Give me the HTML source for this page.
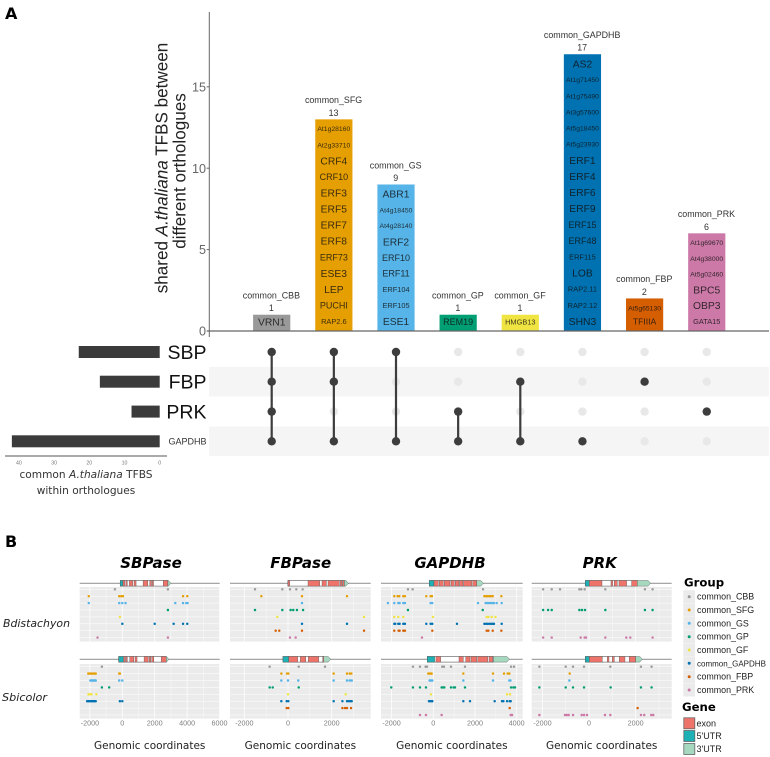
<!DOCTYPE html>
<html lang="en">
<head>
<meta charset="utf-8">
<title>Shared A.thaliana TFBS between orthologues</title>
<style>
html,body{margin:0;padding:0;background:#fff;width:770px;height:757px;overflow:hidden}
svg{display:block;filter:blur(.3px)}
text{font-family:"Liberation Sans",Arial,sans-serif}
.dj{font-family:"DejaVu Sans",Verdana,sans-serif}
</style>
</head>
<body>
<svg id="figure" xmlns="http://www.w3.org/2000/svg" width="770" height="757" viewBox="0 0 770 757">
  <text x="5" y="19" font-size="16" font-weight="bold" class="dj">A</text>
  <text x="5" y="547" font-size="16" font-weight="bold" class="dj">B</text>
  <text transform="translate(167.7,168) rotate(-90)" text-anchor="middle" font-size="17.1" fill="#222">shared <tspan font-style="italic">A.thaliana</tspan> TFBS between</text>
  <text transform="translate(185.7,171) rotate(-90)" text-anchor="middle" font-size="17.1" fill="#222">different orthologues</text>
  <text x="86" y="478" text-anchor="middle" font-size="10.6" class="dj" fill="#333">common <tspan font-style="italic">A.thaliana</tspan> TFBS</text>
  <text x="86" y="494" text-anchor="middle" font-size="10.6" class="dj" fill="#333">within orthologues</text>
  <text x="3" y="627" font-size="11" font-style="italic" class="dj" fill="#222" textLength="67" lengthAdjust="spacingAndGlyphs">Bdistachyon</text>
  <text x="2" y="701" font-size="11" font-style="italic" class="dj" fill="#222" textLength="45" lengthAdjust="spacingAndGlyphs">Sbicolor</text>
  <text x="684" y="586.5" font-size="11.7" font-weight="bold" class="dj">Group</text>
  <text x="682" y="711" font-size="11.7" font-weight="bold" class="dj">Gene</text>
</svg>
<script>
/* ---------- UpSet bars ---------- */
var categories = ['common_CBB','common_SFG','common_GS','common_GP','common_GF','common_GAPDHB','common_FBP','common_PRK'];
var barValues = [1,13,9,1,1,17,2,6];
var groupColors = ['#999999','#E69F00','#56B4E9','#009E73','#F0E442','#0072B2','#D55E00','#CC79A7'];
var yTicks = [0,5,10,15];
var cbbLabels = ['VRN1'];
var sfgLabels = ['At1g28160','At2g33710','CRF4','CRF10','ERF3','ERF5','ERF7','ERF8','ERF73','ESE3','LEP','PUCHI','RAP2.6'];
var gsLabels = ['ABR1','At4g18450','At4g28140','ERF2','ERF10','ERF11','ERF104','ERF105','ESE1'];
var gpLabels = ['REM19'];
var gfLabels = ['HMGB13'];
var gapdhbLabels = ['AS2','At1g71450','At1g75490','At3g57600','At5g18450','At5g23930','ERF1','ERF4','ERF6','ERF9','ERF15','ERF48','ERF115','LOB','RAP2.11','RAP2.12','SHN3'];
var fbpLabels = ['At5g65130','TFIIIA'];
var prkLabels = ['At1g69670','At4g38000','At5g02460','BPC5','OBP3','GATA15'];
var barLabels = [cbbLabels,sfgLabels,gsLabels,gpLabels,gfLabels,gapdhbLabels,fbpLabels,prkLabels];

/* ---------- UpSet matrix and set sizes ---------- */
var setNames = ['SBP','FBP','PRK','GAPDHB'];
var setSizes = [23,17,8,42];
var setSizeTicks = [40,30,20,10,0];
var memberships = [[0,1,2,3],[0,1,3],[0,3],[2,3],[1,3],[3],[1],[2]];

/* ---------- Genomic panels: one array per group, in base pairs ---------- */
var sbpTopPoints = [
 [-455,2815],[-2070,-190,-60,40,3750,4010],[-2070,-190,0,200,3270,3750,3950,4030],[2815],[-145],[0,2000,3170,3750,4010],[],[-1530,2815]];
var sbpBottomPoints = [
 [-1260],[-2100,-2030,-1960,-1900,-1830,-1770,-1700,-1640,-190,-150],[-1970,-1900,-1840,-1780,-1700,-1640,-190,0],[-1260,-810],[-2090,-2000,-1900,-1600],[-2170,-2100,-2030,-1960,-1900,-1830,-1770,-1700,-1640,-150,0],[],[]];
var fbpTopPoints = [
 [-1510,-260,90,380,670],[-1220,640,2700],[640],[-1510,-260,120,240,410,690],[-490,3480],[640,2700],[-565,-400,640,3480],[90,350]];
var fbpBottomPoints = [
 [-840,490,1695],[-305,-45,15,2090,2700,2825,2900],[-305,0,470,2090,2700,2825,2915],[-840,-700,490],[0,2640],[-305,-60,15,2090,2490,2700,2780,2855,2915],[-60,15,2490,2610,2700,2885],[]];
var gapTopPoints = [
 [-1216,-992,2384],[-1872,-1712,-1632,-1440,-1360,-336,-128,-64,2450,2530,2610,2690,2770,2850,3264],[-2176,-1872,-1680,-1616,-1440,-1360,-128,-48,2144,2510,2590,2670,2750,2830,2910,3040,3280],[-1216,2370],[-1872,-1680,-1440,-16,2560,2640,2800,2980],[-1872,-1824,-1680,-1616,-1440,-1360,-336,-128,-48,1136,2450,2530,2610,2690,2770,2850,2910,3280],[-1872,-1664,-1616,-1440,-1360,-48,2560,2640,2850,3264],[-544]];
var gapBottomPoints = [
 [-976,-640,-368,-304,430,510,848,1520,3728,3872],[-240,-176,-112,-80,1440,2864,3392,3568,3648],[-176,-112,-48,1440,2864,3648,3696],[-2016,-976,-640,-352,400,464,528,848,976,1040,1520,3728,3840,3920],[-112,3536,3680],[-208,-144,-80,-48,1440,1760,2944,3296,3360,3536,3664,3712],[3664],[-640,-352,400,3712,3776]];
var prkTopPoints = [
 [-1970,-1600,-1243,-414,-329,-186,700,2400,2729],[],[],[-1970,-1757,-1600,-414,-300,-171,700,2400,2729],[],[],[],[-1970,-1600,-357,-186,-129,700,1600,1771,2729]];
var prkBottomPoints = [
 [-2130,-1000,-686,-214,914,2229,2686],[-829],[-843],[-2130,-1000,-686,-214,930,2229,2686],[],[],[2086],[-2130,-1030,-957,-871,-686,-314,-214,-86,686,914,2229,2371,2671,2757]];

/* ---------- Gene models, in base pairs ---------- */
var sbpTopExons = [[40,165],[228,310],[435,640],[725,850],[1285,1575],[1700,1800],[1840,1925],[2525,2815]];
var sbpTopUtr5 = [-125,40];
var sbpTopUtr3 = [2815,3000];
var sbpBottomExons = [[100,185],[228,310],[455,705],[785,910],[1345,1595],[1655,1760],[1820,1945],[2400,2710]];
var sbpBottomUtr5 = [-225,60];
var sbpBottomUtr3 = [2710,2880];
var fbpTopExons = [[0,76],[916,1450],[1558,1756],[1832,2351],[2397,2474],[2504,2580]];
var fbpTopUtr5 = [0,15];
var fbpTopUtr3 = [2580,2764];
var fbpBottomExons = [[30,443],[565,810],[931,1405],[1588,1634]];
var fbpBottomUtr5 = [-229,30];
var fbpBottomUtr3 = [1634,1955];
var gapTopExons = [[32,240],[288,480],[528,800],[848,1008],[1056,1232],[1264,1424],[1456,1840],[1888,2080]];
var gapTopUtr5 = [-192,32];
var gapTopUtr3 = [2080,2400];
var gapBottomExons = [[128,352],[1232,1440],[1552,1760],[1808,2080],[2128,2608],[2672,2848]];
var gapBottomUtr5 = [-288,64];
var gapBottomUtr3 = [2880,3648];
var prkTopExons = [[14,557],[943,1014],[1086,1214],[1286,1614],[1829,2071]];
var prkTopUtr5 = [-157,14];
var prkTopUtr3 = [2071,2643];
var prkBottomExons = [[14,571],[786,857],[1000,1086],[1300,1543],[1729,2000]];
var prkBottomUtr5 = [-157,14];
var prkBottomUtr3 = [2000,2286];

var svg = document.getElementById('figure');
var NS = 'http://www.w3.org/2000/svg';
function el(tag, attrs, text, parent) {
  var n = document.createElementNS(NS, tag);
  for (var k in attrs) n.setAttribute(k, attrs[k]);
  if (text !== undefined) n.textContent = text;
  (parent || svg).appendChild(n);
  return n;
}
function mark(n, name, inter) {
  
  
  return n;
}

/* ===== main bar chart ===== */
var y0 = 331, unit = 16.28, barX0 = 271.7, barStep = 62.15, barW = 37.2;
function yScale(v) { return y0 - v * unit; }
function barX(i) { return barX0 + i * barStep; }

var mainAxes = el('g', {});
mark(mainAxes, 'upset-axes', false);
var yLine = el('line', {x1:209.3,x2:209.3,y1:12,y2:337,stroke:'#666','stroke-width':1}, undefined, mainAxes);
mark(yLine, 'y-axis-line', false);
yTicks.forEach(function (t) {
  if (t > 0) {
    var tk = el('line', {x1:206.7,x2:209.3,y1:yScale(t),y2:yScale(t),stroke:'#666','stroke-width':1}, undefined, mainAxes);
    mark(tk, 'y-tick', false);
  }
  var lb = el('text', {x:206,y:yScale(t)+4.6,'text-anchor':'end','font-size':12.6,fill:'#666'}, String(t), mainAxes);
  mark(lb, 'y-tick-label', false);
});

barValues.forEach(function (v, i) {
  var g = el('g', {});
  mark(g, 'bar-' + categories[i], false);
  var c = barX(i);
  var r = el('rect', {x:c-barW/2,y:yScale(v),width:barW,height:v*unit,fill:groupColors[i]}, undefined, g);
  mark(r, 'bar-rect', false);
  var n = el('text', {x:c-0.3,y:yScale(v)-16.2,'text-anchor':'middle','font-size':8.9,fill:'#333'}, categories[i], g);
  mark(n, 'bar-name', false);
  var ct = el('text', {x:c-0.3,y:yScale(v)-3.5,'text-anchor':'middle','font-size':8.9,fill:'#333'}, String(v), g);
  mark(ct, 'bar-count', false);
  var labels = barLabels[i];
  labels.forEach(function (s, j) {
    var fs;
    if (/^At\d/.test(s)) fs = 6.8;
    else if (s.length >= 7 || /^(ERF1\d\d|RAP2\.6|HMGB13|GATA15)$/.test(s)) fs = 7.4;
    else if (s === 'TFIIIA') fs = 8.6;
    else if (s.length === 5) fs = 9;
    else fs = 10.3;
    var firstY = yScale(v) + 9.5, lastY = y0 - 9.7;
    var py = labels.length > 1 ? firstY + j * (lastY - firstY) / (labels.length - 1) : lastY + 0.7;
    var tx = el('text', {x:c,y:py+fs*0.35,'text-anchor':'middle','font-size':fs,fill:'#111','fill-opacity':0.82}, s, g);
    mark(tx, 'tf-label', false);
  });
});
var xLine = el('line', {x1:206.7,x2:769,y1:y0,y2:y0,stroke:'#666','stroke-width':1.2}, undefined, mainAxes);
svg.appendChild(mainAxes);
mark(xLine, 'x-axis-line', false);

/* ===== matrix ===== */
var rowY = [352,381.7,411.6,441.3], rowH = 29.7;
setNames.forEach(function (name, r) {
  if (r % 2 === 1) {
    var sh = el('rect', {x:209,y:rowY[r]-rowH/2,width:560,height:rowH,fill:'#f5f5f5'});
    mark(sh, 'matrix-row-shade', false);
  }
});
categories.forEach(function (cat, i) {
  var g = el('g', {});
  mark(g, 'intersection-' + cat, false);
  var cx = barX(i);
  setNames.forEach(function (s, r) {
    var d = el('circle', {cx:cx,cy:rowY[r],r:4.2,fill:'#e8e8e8'}, undefined, g);
    mark(d, 'matrix-dot-empty', false);
  });
  var m = memberships[i];
  var lo = Math.min.apply(null, m), hi = Math.max.apply(null, m);
  if (hi > lo) {
    var ln = el('line', {x1:cx,x2:cx,y1:rowY[lo],y2:rowY[hi],stroke:'#3d3d3d','stroke-width':2.2}, undefined, g);
    mark(ln, 'matrix-connector', false);
  }
  m.forEach(function (r) {
    var d = el('circle', {cx:cx,cy:rowY[r],r:4.2,fill:'#3d3d3d'}, undefined, g);
    mark(d, 'matrix-dot-filled', false);
  });
});

/* ===== set size bars ===== */
var sizeZero = 159.7, sizeUnit = 3.52;
function sizeX(v) { return sizeZero - v * sizeUnit; }
setNames.forEach(function (name, r) {
  var b = el('rect', {x:sizeX(setSizes[r]),y:rowY[r]-6,width:setSizes[r]*sizeUnit,height:12,fill:'#3b3b3b'});
  mark(b, 'set-size-bar-' + name, false);
  var small = name.length > 3;
  var t = el('text', {x:206.5,y:rowY[r]+(small?3:7),'text-anchor':'end','font-size':small?9:19.5,fill:small?'#333':'#111'}, name);
  mark(t, 'set-label-' + name, false);
});
var sAxis = el('line', {x1:5,x2:167,y1:456,y2:456,stroke:'#555','stroke-width':0.9});
mark(sAxis, 'set-size-axis-line', false);
setSizeTicks.forEach(function (t) {
  var lb = el('text', {x:sizeX(t),y:464.5,'text-anchor':'middle','font-size':5.2,fill:'#777'}, String(t));
  mark(lb, 'set-size-tick-label', false);
});

/* ===== genomic panels ===== */
var columns = [
 {name:'SBPase', left:79.7, right:219.7, zero:122.3, perK:16.2, ticks:[-2000,0,2000,4000,6000], title:151,
  top:sbpTopPoints, bottom:sbpBottomPoints,
  topGene:[sbpTopExons,sbpTopUtr5,sbpTopUtr3], bottomGene:[sbpBottomExons,sbpBottomUtr5,sbpBottomUtr3]},
 {name:'FBPase', left:230, right:370.7, zero:288, perK:21.85, ticks:[-2000,0,2000], title:300.7,
  top:fbpTopPoints, bottom:fbpBottomPoints,
  topGene:[fbpTopExons,fbpTopUtr5,fbpTopUtr3], bottomGene:[fbpBottomExons,fbpBottomUtr5,fbpBottomUtr3]},
 {name:'GAPDHB', left:381, right:522.7, zero:433.3, perK:20.85, ticks:[-2000,0,2000,4000], title:450,
  top:gapTopPoints, bottom:gapBottomPoints,
  topGene:[gapTopExons,gapTopUtr5,gapTopUtr3], bottomGene:[gapBottomExons,gapBottomUtr5,gapBottomUtr3]},
 {name:'PRK', left:531.7, right:671.7, zero:589, perK:23.3, ticks:[-2000,0,2000], title:599.7,
  top:prkTopPoints, bottom:prkBottomPoints,
  topGene:[prkTopExons,prkTopUtr5,prkTopUtr3], bottomGene:[prkBottomExons,prkBottomUtr5,prkBottomUtr3]}
];
var exonColor = '#EE736B', utr5Color = '#1DB1B6', utr3Color = '#A6D8BF', trackEdge = '#555';

function drawGene(col, gene, y, fx, parent) {
  var exons = gene[0], u5 = gene[1], u3 = gene[2];
  var bb = el('line', {x1:col.left,x2:col.right,y1:y,y2:y,stroke:'#999','stroke-width':1.1}, undefined, parent);
  mark(bb, 'gene-baseline', false);
  var box = el('rect', {x:fx(u5[0]),y:y-2.8,width:fx(u3[0])-fx(u5[0]),height:5.6,fill:'#fff',stroke:trackEdge,'stroke-width':0.6}, undefined, parent);
  mark(box, 'gene-intron-span', false);
  var r5 = el('rect', {x:fx(u5[0]),y:y-2.8,width:fx(u5[1])-fx(u5[0]),height:5.6,fill:utr5Color,stroke:trackEdge,'stroke-width':0.4}, undefined, parent);
  mark(r5, 'gene-5utr', false);
  exons.forEach(function (e) {
    var x = el('rect', {x:fx(e[0]),y:y-2.8,width:fx(e[1])-fx(e[0]),height:5.6,fill:exonColor,stroke:trackEdge,'stroke-width':0.4}, undefined, parent);
    mark(x, 'gene-exon', false);
  });
  var a = fx(u3[0]), b = fx(u3[1]), tip = Math.max(a, b - 2.5);
  var pts = a+','+(y-2.8)+' '+tip+','+(y-2.8)+' '+b+','+y+' '+tip+','+(y+2.8)+' '+a+','+(y+2.8);
  var r3 = el('polygon', {points:pts,fill:utr3Color,stroke:trackEdge,'stroke-width':0.4}, undefined, parent);
  mark(r3, 'gene-3utr', false);
}

function drawFacet(col, top, rowFirst, points, gene, geneY, isBottom) {
  var fx = function (v) { return col.zero + v / 1000 * col.perK; };
  var g = el('g', {});
  mark(g, 'facet-' + col.name + (isBottom ? '-sbicolor' : '-bdistachyon'), false);
  var rStep = 6.9, h = 54.6;
  var bg = el('rect', {x:col.left,y:top,width:col.right-col.left,height:h,fill:'#ebebeb'}, undefined, g);
  mark(bg, 'facet-background', false);
  groupColors.forEach(function (c, i) {
    var gy = el('line', {x1:col.left,x2:col.right,y1:rowFirst+i*rStep,y2:rowFirst+i*rStep,stroke:'#fff','stroke-width':0.5}, undefined, g);
    mark(gy, 'facet-gridline-h', false);
  });
  var stepK = col.ticks[1] - col.ticks[0];
  for (var tv = col.ticks[0] - stepK; tv <= col.ticks[col.ticks.length-1] + stepK; tv += stepK / 2) {
    var px = fx(tv);
    if (px < col.left || px > col.right) continue;
    var major = col.ticks.indexOf(tv) >= 0;
    var gv = el('line', {x1:px,x2:px,y1:top,y2:top+h,stroke:'#fff','stroke-width':major?0.7:0.35}, undefined, g);
    mark(gv, 'facet-gridline-v', false);
  }
  points.forEach(function (arr, i) {
    arr.forEach(function (v) {
      var p = el('rect', {x:fx(v)-1.2,y:rowFirst+i*rStep-1.2,width:2.4,height:2.4,rx:1,fill:groupColors[i]}, undefined, g);
      mark(p, 'tfbs-point-' + categories[i], false);
    });
  });
  drawGene(col, gene, geneY, fx, g);
  if (isBottom) {
    col.ticks.forEach(function (t) {
      var lb = el('text', {x:fx(t),y:725.6,'text-anchor':'middle','font-size':7.2,fill:'#7f7f7f'}, String(t), g);
      mark(lb, 'genomic-x-tick-label', false);
    });
  }
}

columns.forEach(function (col) {
  var tt = el('text', {x:col.title,y:568,'text-anchor':'middle','font-size':15,'font-weight':'bold','font-style':'italic','class':'dj',fill:'#000'}, col.name);
  mark(tt, 'gene-title-' + col.name, false);
  drawFacet(col, 587, 589.3, col.top, col.topGene, 583.3, false);
  drawFacet(col, 664, 666.7, col.bottom, col.bottomGene, 659.3, true);
  var xt = el('text', {x:(col.left+col.right)/2,y:749,'text-anchor':'middle','font-size':10.5,'class':'dj',fill:'#222'}, 'Genomic coordinates');
  mark(xt, 'genomic-x-axis-title', false);
});

/* ===== legends ===== */
var legendRowY = [596.7,610,623.3,636.7,650,663.3,676.7,690];
categories.forEach(function (c, i) {
  var k = el('rect', {x:683.3,y:legendRowY[i]-6.5,width:11.7,height:13,fill:'#ebebeb'});
  mark(k, 'legend-key-' + c, false);
  var d = el('circle', {cx:689.2,cy:legendRowY[i],r:1.5,fill:groupColors[i]});
  mark(d, 'legend-dot-' + c, false);
  var t = el('text', {x:697,y:legendRowY[i]+3,'font-size':c === 'common_GAPDHB' ? 8 : 8.9,fill:'#222'}, c);
  mark(t, 'legend-entry-' + c, false);
});
var geneLegendNames = ['exon',"5'UTR","3'UTR"];
var geneLegendColors = [exonColor,utr5Color,utr3Color];
var geneLegendY = [723.3,736,749];
geneLegendNames.forEach(function (n, i) {
  var k = el('rect', {x:683.8,y:geneLegendY[i]-5.5,width:11,height:11,fill:geneLegendColors[i],stroke:'#666','stroke-width':0.8});
  mark(k, 'gene-legend-key', false);
  var t = el('text', {x:696.5,y:geneLegendY[i]+3,'font-size':9,fill:'#222'}, n);
  mark(t, 'gene-legend-entry', false);
});
</script>
</body>
</html>
